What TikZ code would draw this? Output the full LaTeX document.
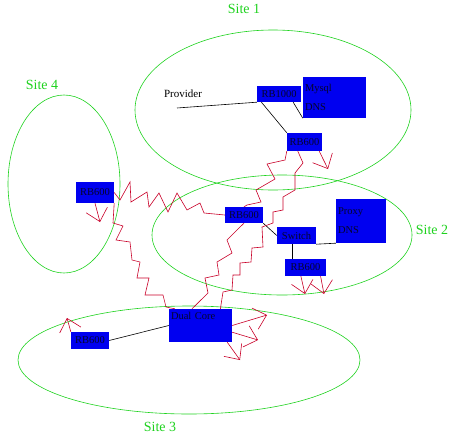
\documentclass[tikz,border=0pt]{standalone}
\usepackage{fontspec}
\setmainfont{Liberation Serif}
\usetikzlibrary{arrows.meta}
\definecolor{sitegreen}{RGB}{30,210,30}
\definecolor{linkred}{RGB}{200,0,40}
\definecolor{boxblue}{RGB}{0,0,240}
\definecolor{boxtext}{RGB}{5,5,45}
\begin{document}
\begin{tikzpicture}[x=1pt,y=-1pt,
    site/.style={draw=sitegreen,line width=0.6pt},
    sitename/.style={text=sitegreen,font=\fontsize{14}{16}\selectfont},
    box/.style={fill=boxblue,text=boxtext,inner sep=1pt,font=\fontsize{10.5}{12}\selectfont},
    wire/.style={draw=black,line width=0.6pt},
    radio/.style={draw=linkred,line width=0.6pt},
    signal/.style={draw=linkred,line width=0.6pt,-{Straight Barb[length=12pt,width=22pt]}}]
                \useasboundingbox (0,0) rectangle (457,444);
                \draw [site] (273,110) ellipse [x radius=138pt,y radius=80pt];
                \draw [site] (282,235) ellipse [x radius=130pt,y radius=60pt];
                \draw [site] (189,360) ellipse [x radius=171pt,y radius=54pt];
                \draw [site] (64,184) ellipse [x radius=56pt,y radius=89pt];
                \node [sitename] (s1) at (244,9) {Site 1};
                \node [sitename] (s2) at (432,230) {Site 2};
                \node [sitename] (s3) at (160,427) {Site 3};
                \node [sitename] (s4) at (42,85) {Site 4};
                \node [box,minimum width=44pt,minimum height=16pt] (rbk) at (279,94) {RB1000};
                \node [box,minimum width=63pt,minimum height=41pt,text width=59pt,align=left] (mysql) at (334.5,97.5) {Mysql\\[7pt]DNS};
                \node [box,minimum width=35pt,minimum height=18pt] (rbA) at (304.5,142) {RB600};
                \node [box,minimum width=38pt,minimum height=21pt] (rbD) at (95,192.5) {RB600};
                \node [box,minimum width=38pt,minimum height=16pt] (rbB) at (244,215) {RB600};
                \node [box,minimum width=39pt,minimum height=17pt] (sw) at (296.5,235.5) {Switch};
                \node [box,minimum width=50pt,minimum height=44pt,text width=46pt,align=left] (proxy) at (361,221) {Proxy\\[7pt]DNS};
                \node [box,minimum width=41pt,minimum height=17pt] (rbC) at (305.5,267.5) {RB600};
                \node [box,minimum width=63pt,minimum height=33pt,text width=59pt,align=left,text height=8pt,text depth=21pt] (dual) at (200.5,325.5) {Dual Core};
                \node [box,minimum width=38pt,minimum height=17pt] (rbE) at (90,340.5) {RB600};
                \node [font=\fontsize{11}{13}\selectfont] (prov) at (183,94) {Provider};
                \coordinate (uplink) at (177,108);
                \draw [wire] (uplink) -- (rbk.south west);
                \draw [wire] (rbk.330) -- (mysql.south west);
                \draw [wire] (rbk.205) -- (rbA.north west);
                \draw [wire] (rbB.south east) -- (sw.west);
                \draw [wire] (sw.south east) -- (proxy.south west);
                \draw [wire] (sw.242) -- (sw.242 |- rbC.north);
                \draw [wire] (dual.west) -- (rbE.east);
                \draw [radio] (rbD.east) -- (120,200) -- (130,182) -- (131,202) -- (147,192) -- (149,207) -- (159,193)
                    -- (168,212) -- (177,193) -- (187,210) -- (200,203) -- (204,213) -- (rbB.west);
                \draw [radio] (rbD.south east) -- (113,223) -- (123,226) -- (116,240) -- (130,242) -- (132,260) -- (140,262)
                    -- (137,278) -- (149,278) -- (145,295) -- (163,295) -- (166,307) -- (dual.147);
                \draw [radio] (rbB.south) -- (240,227) -- (227,240) -- (232,253) -- (217,262) -- (219,275) -- (205,278)
                    -- (208,293) -- (dual.117);
                \draw [radio] (rbA.south west) -- (285,160) -- (267,164) -- (275,179) -- (256,190) -- (261,202)
                    -- (247,205) -- (rbB.north);
                \draw [radio] (rbA.234) -- (303,163) -- (295,173) -- (295,190) -- (283,197) -- (283,210) -- (273,212)
                    -- (273,223) -- (262,227) -- (263,247) -- (252,248) -- (251,262) -- (240,263) -- (240,275)
                    -- (233,275) -- (232,290) -- (223,292) -- (dual.40);
                \coordinate (tA) at (328,169);
                \coordinate (tD) at (100,222);
                \coordinate (tC1) at (305,294);
                \coordinate (tC2) at (324,294);
                \coordinate (tX1) at (267,315);
                \coordinate (tX2) at (258,340);
                \coordinate (tX3) at (240,360);
                \coordinate (tE) at (67,318);
                \draw [signal] (rbA.328) -- (tA);
                \draw [signal] (rbD.south) -- (tD);
                \draw [signal] (rbC.242) -- (tC1);
                \draw [signal] (rbC.330) -- (tC2);
                \draw [signal] (dual.east) -- (tX1);
                \draw [signal] (dual.348) -- (tX2);
                \draw [signal] (dual.328) -- (tX3);
                \draw [signal] (rbE.north west) -- (tE);
            \end{tikzpicture}
\end{document}
